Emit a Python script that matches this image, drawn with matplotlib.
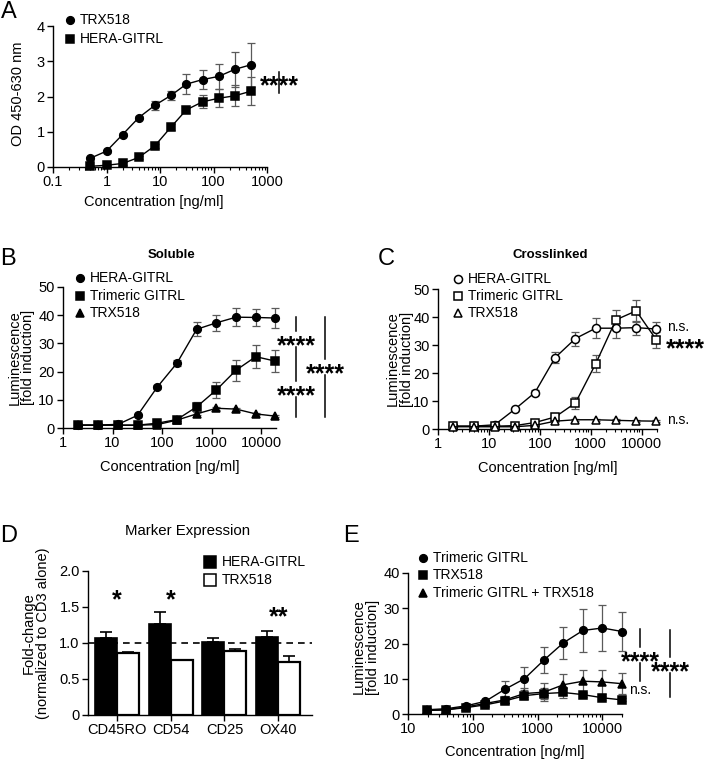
import matplotlib
matplotlib.use("Agg")
import matplotlib.pyplot as plt
import matplotlib.transforms as mtransforms
from matplotlib.lines import Line2D
import numpy as np

plt.rcParams['font.family'] = ['Liberation Sans', 'DejaVu Sans']

W, H = 708, 761

# ---------------- data ----------------
# Panel A
a_conc = [0.5, 1, 2, 4, 8, 16, 31, 62.5, 125, 250, 500]
a_trx = [0.25, 0.45, 0.92, 1.40, 1.75, 2.03, 2.35, 2.48, 2.57, 2.77, 2.90]
a_trx_err = [0.04, 0.04, 0.05, 0.05, 0.12, 0.14, 0.28, 0.28, 0.35, 0.50, 0.63]
a_hera = [0.02, 0.05, 0.10, 0.27, 0.60, 1.13, 1.62, 1.85, 1.95, 2.02, 2.15]
a_hera_err = [0.02, 0.02, 0.03, 0.04, 0.05, 0.08, 0.08, 0.18, 0.25, 0.30, 0.40]
a_xticks = [0.1, 1, 10, 100, 1000]
a_xticklabels = ['0.1', '1', '10', '100', '1000']
a_yticks = [0, 1, 2, 3, 4]

# Panel B (soluble) and C (crosslinked)
bc_conc = [2, 5, 13, 32, 80, 200, 500, 1250, 3125, 7800, 19500]
b_hera = [1.0, 1.0, 1.3, 4.5, 14.5, 23.0, 35.0, 37.3, 39.3, 39.2, 39.0]
b_hera_err = [0.3, 0.3, 0.3, 0.5, 0.8, 1.0, 2.5, 2.8, 3.3, 3.0, 3.5]
b_tri = [1.0, 1.0, 1.0, 1.0, 1.7, 3.0, 7.5, 13.5, 20.5, 25.3, 23.7]
b_tri_err = [0.2, 0.2, 0.2, 0.2, 0.4, 0.6, 1.8, 2.8, 3.7, 4.2, 4.0]
b_trx = [1.0, 1.0, 1.0, 1.0, 1.2, 2.8, 5.0, 7.0, 6.7, 5.0, 4.2]
b_trx_err = [0.2, 0.2, 0.2, 0.2, 0.3, 0.4, 0.5, 0.5, 0.5, 0.4, 0.4]

c_hera = [1.0, 1.0, 1.5, 7.0, 13.0, 25.5, 32.3, 36.0, 36.0, 36.2, 35.7]
c_hera_err = [0.3, 0.3, 0.3, 0.6, 1.0, 2.0, 2.5, 3.5, 3.5, 2.5, 2.5]
c_tri = [1.0, 1.0, 1.0, 1.2, 2.3, 4.3, 9.3, 23.3, 39.0, 42.2, 31.8]
c_tri_err = [0.2, 0.2, 0.2, 0.3, 0.4, 0.6, 2.0, 3.0, 3.5, 4.0, 3.0]
c_trx = [0.8, 0.8, 0.8, 0.8, 1.3, 2.8, 3.3, 3.3, 3.1, 2.9, 2.8]
c_trx_err = [0.2, 0.2, 0.2, 0.2, 0.3, 0.3, 0.4, 0.4, 0.3, 0.3, 0.3]
bc_xticks = [1, 10, 100, 1000, 10000]
bc_xticklabels = ['1', '10', '100', '1000', '10000']
bc_yticks = [0, 10, 20, 30, 40, 50]

# Panel D
d_markers = ['CD45RO', 'CD54', 'CD25', 'OX40']
d_hera = [1.07, 1.26, 1.02, 1.09]
d_hera_err = [0.08, 0.17, 0.05, 0.08]
d_trx = [0.86, 0.76, 0.89, 0.74]
d_trx_err = [0.02, 0.01, 0.02, 0.08]
d_stars = ['*', '*', '', '**']
d_star_y = [1.69, 1.69, 0, 1.46]
d_yticks = [0, 0.5, 1.0, 1.5, 2.0]
d_yticklabels = ['0', '0.5', '1.0', '1.5', '2.0']

# Panel E
e_conc = [19.5, 39, 78, 156, 312, 625, 1250, 2500, 5000, 10000, 20000]
e_tri = [1.2, 1.5, 2.3, 3.6, 7.0, 10.0, 15.3, 20.2, 23.7, 24.4, 23.4]
e_tri_err = [0.3, 0.3, 0.4, 0.5, 2.5, 3.3, 3.8, 4.5, 6.0, 6.5, 5.5]
e_trx = [1.0, 1.2, 1.8, 2.6, 3.7, 5.2, 5.8, 6.1, 5.5, 4.6, 4.0]
e_trx_err = [0.3, 0.3, 0.4, 0.5, 0.7, 1.0, 1.5, 1.5, 0.6, 0.5, 0.4]
e_combo = [1.0, 1.2, 2.0, 3.0, 4.0, 5.8, 6.2, 8.3, 9.3, 9.1, 8.6]
e_combo_err = [0.3, 0.3, 0.4, 0.5, 1.0, 1.5, 2.5, 3.0, 3.3, 3.3, 3.0]
e_xticks = [10, 100, 1000, 10000]
e_xticklabels = ['10', '100', '1000', '10000']
e_yticks = [0, 10, 20, 30, 40]

# ---------------- helpers ----------------
fig = plt.figure(figsize=(W / 100, H / 100), dpi=100)


def add_axes_px(left, top, right, bottom):
    return fig.add_axes([left / W, 1 - bottom / H, (right - left) / W, (bottom - top) / H])


TICK_FS = 10.5
LAB_FS = 10.5
LEG_FS = 10
ECOL = '#5a5a5a'


def style(ax, logx=True):
    for s in ['top', 'right']:
        ax.spines[s].set_visible(False)
    for s in ['left', 'bottom']:
        ax.spines[s].set_linewidth(1.0)
    ax.tick_params(direction='out', length=4, width=1, labelsize=TICK_FS, pad=2)
    ax.tick_params(which='minor', direction='out', length=2.2, width=0.8)
    if logx:
        ax.set_xscale('log')


def series(ax, x, y, err, marker, ms, filled=True):
    ax.errorbar(x, y, yerr=err, fmt='none', ecolor=ECOL, elinewidth=0.9,
                capsize=3, capthick=0.9, zorder=2, clip_on=False)
    ax.plot(x, y, color='black', lw=1.0, marker=marker, ms=ms,
            mfc='black' if filled else 'white', mec='black', mew=1.1,
            zorder=3, clip_on=False)


def fig_text(px, py, s, **kw):
    fig.text(px / W, 1 - py / H, s, **kw)


def legend_px(entries, mx, tx, ys, filled=True):
    for (marker, ms, label), y in zip(entries, ys):
        fig.add_artist(Line2D([mx / W], [1 - y / H], marker=marker, ms=ms,
                              mfc='black' if filled else 'white', mec='black', mew=1.1,
                              ls='none', transform=fig.transFigure))
        fig_text(tx, y, label, fontsize=LEG_FS, ha='left', va='center')


STAR_FS = 18


def stars(ax, xf, y, s, ha='center', trans=None):
    base = trans if trans is not None else mtransforms.blended_transform_factory(ax.transAxes, ax.transData)
    t = mtransforms.offset_copy(base, fig=fig, x=0, y=-14.0, units='dots')
    ax.text(xf, y, s, transform=t, ha=ha, va='baseline', fontsize=STAR_FS,
            fontweight='bold', clip_on=False)


def vline_gaps(ax, xf, y0, y1, gaps, half):
    tr = mtransforms.blended_transform_factory(ax.transAxes, ax.transData)
    pts = [y0]
    for g in sorted(gaps):
        pts += [g - half, g + half]
    pts.append(y1)
    for a, b in zip(pts[0::2], pts[1::2]):
        ax.add_line(Line2D([xf, xf], [a, b], color='black', lw=1.1, transform=tr, clip_on=False))


def text_right(ax, xf, y, s, ha='left'):
    tr = mtransforms.blended_transform_factory(ax.transAxes, ax.transData)
    ax.text(xf, y, s, transform=tr, ha=ha, va='center', fontsize=LEG_FS, clip_on=False)


# ---------------- Panel A ----------------
axA = add_axes_px(53, 26, 267, 167)
style(axA)
series(axA, a_conc, a_trx, a_trx_err, 'o', 5.5)
series(axA, a_conc, a_hera, a_hera_err, 's', 5.2)
axA.set_xlim(0.1, 1000)
axA.set_ylim(0, 4)
axA.set_xticks(a_xticks)
axA.set_xticklabels(a_xticklabels)
axA.set_yticks(a_yticks)
axA.set_xlabel('Concentration [ng/ml]', fontsize=LAB_FS)
axA.set_ylabel('OD 450-630 nm', fontsize=LAB_FS)
axA.xaxis.set_label_coords(0.47, -0.20)
axA.yaxis.set_label_coords(-0.13, 0.52)
vline_gaps(axA, 1.056, 2.11, 2.70, [], 0)
stars(axA, 1.056, 2.49, '****')
legend_px([('o', 5.5, 'TRX518'), ('s', 5.2, 'HERA-GITRL')], 70, 80, [20, 39])
fig_text(1, 18, 'A', fontsize=17, ha='left', va='baseline')

# ---------------- Panel B ----------------
axB = add_axes_px(63, 287, 276, 428)
style(axB)
series(axB, bc_conc, b_hera, b_hera_err, 'o', 5.5)
series(axB, bc_conc, b_tri, b_tri_err, 's', 5.2)
series(axB, bc_conc, b_trx, b_trx_err, '^', 5.8)
axB.set_xlim(1, 20000)
axB.set_ylim(0, 50)
axB.set_xticks(bc_xticks)
axB.set_xticklabels(bc_xticklabels)
axB.set_yticks(bc_yticks)
axB.set_xlabel('Concentration [ng/ml]', fontsize=LAB_FS)
axB.set_ylabel('Luminescence\n[fold induction]', fontsize=LAB_FS, linespacing=1.0)
axB.xaxis.set_label_coords(0.5, -0.23)
axB.yaxis.set_label_coords(-0.13, 0.5)
vline_gaps(axB, 1.094, 3.9, 39.4, [31.5, 13.8], 2.9)
stars(axB, 1.094, 31.5, '****')
stars(axB, 1.094, 13.8, '****')
vline_gaps(axB, 1.23, 3.9, 39.4, [21.6], 2.9)
stars(axB, 1.23, 21.6, '****')
legend_px([('o', 5.5, 'HERA-GITRL'), ('s', 5.2, 'Trimeric GITRL'), ('^', 5.8, 'TRX518')],
          80, 90, [278, 296, 313])
fig_text(172, 258, 'Soluble', fontsize=9.5, fontweight='bold', ha='center', va='baseline')
fig_text(0, 265, 'B', fontsize=17, ha='left', va='baseline')

# ---------------- Panel C ----------------
axC = add_axes_px(438, 289, 657, 429)
style(axC)
series(axC, bc_conc, c_hera, c_hera_err, 'o', 5.8, filled=False)
series(axC, bc_conc, c_tri, c_tri_err, 's', 5.5, filled=False)
series(axC, bc_conc, c_trx, c_trx_err, '^', 6.0, filled=False)
axC.set_xlim(1, 20000)
axC.set_ylim(0, 50)
axC.set_xticks(bc_xticks)
axC.set_xticklabels(bc_xticklabels)
axC.set_yticks(bc_yticks)
axC.set_xlabel('Concentration [ng/ml]', fontsize=LAB_FS)
axC.set_ylabel('Luminescence\n[fold induction]', fontsize=LAB_FS, linespacing=1.0)
axC.xaxis.set_label_coords(0.5, -0.23)
axC.yaxis.set_label_coords(-0.11, 0.5)
text_right(axC, 1.045, 36.4, 'n.s.')
stars(axC, 1.04, 31.0, '****', ha='left')
text_right(axC, 1.045, 3.2, 'n.s.')
legend_px([('o', 5.8, 'HERA-GITRL'), ('s', 5.5, 'Trimeric GITRL'), ('^', 6.0, 'TRX518')],
          458, 468, [279, 296, 313], filled=False)
fig_text(550, 258, 'Crosslinked', fontsize=9.5, fontweight='bold', ha='center', va='baseline')
fig_text(378, 265, 'C', fontsize=17, ha='left', va='baseline')

# ---------------- Panel D ----------------
axD = add_axes_px(88, 571, 312, 715)
style(axD, logx=False)
xpos = np.arange(len(d_markers))
bw = 0.41
axD.bar(xpos - bw / 2, d_hera, width=bw, color='black', edgecolor='black', lw=1.2,
        yerr=[np.zeros(4), d_hera_err], error_kw=dict(ecolor='black', elinewidth=1.2, capsize=4, capthick=1.2),
        zorder=2)
axD.bar(xpos + bw / 2, d_trx, width=bw, color='white', edgecolor='black', lw=1.6,
        yerr=[np.zeros(4), d_trx_err], error_kw=dict(ecolor='black', elinewidth=1.2, capsize=4, capthick=1.2),
        zorder=2)
axD.axhline(1.0, color='black', lw=1.2, ls=(0, (4, 3)), zorder=3)
axD.set_xlim(-0.54, 3.63)
axD.set_ylim(0, 2.0)
axD.set_xticks(xpos)
axD.set_xticklabels(d_markers, fontsize=10.5)
axD.set_yticks(d_yticks)
axD.set_yticklabels(d_yticklabels)
axD.set_ylabel('Fold-change\n(normalized to CD3 alone)', fontsize=LAB_FS, linespacing=1.05)
axD.yaxis.set_label_coords(-0.17, 0.57)
for i, (s, yv) in enumerate(zip(d_stars, d_star_y)):
    if s:
        stars(axD, xpos[i], yv, s, trans=axD.transData)
legend_px([('s', 8, 'HERA-GITRL')], 210, 222, [562])
legend_px([('s', 8, 'TRX518')], 210, 222, [580], filled=False)
fig_text(188, 535, 'Marker Expression', fontsize=10.8, ha='center', va='baseline')
fig_text(0, 542, 'D', fontsize=17, ha='left', va='baseline')

# ---------------- Panel E ----------------
axE = add_axes_px(408, 573, 622, 714)
style(axE)
series(axE, e_conc, e_tri, e_tri_err, 'o', 5.5)
series(axE, e_conc, e_trx, e_trx_err, 's', 5.2)
series(axE, e_conc, e_combo, e_combo_err, '^', 5.8)
axE.set_xlim(10, 20000)
axE.set_ylim(0, 40)
axE.set_xticks(e_xticks)
axE.set_xticklabels(e_xticklabels)
axE.set_yticks(e_yticks)
axE.set_xlabel('Concentration [ng/ml]', fontsize=LAB_FS)
axE.set_ylabel('Luminescence\n[fold induction]', fontsize=LAB_FS, linespacing=1.0)
axE.xaxis.set_label_coords(0.5, -0.22)
axE.yaxis.set_label_coords(-0.13, 0.475)
vline_gaps(axE, 1.084, 9.4, 24.0, [16.7], 2.3)
stars(axE, 1.084, 16.7, '****')
text_right(axE, 1.084, 6.8, 'n.s.', ha='center')
vline_gaps(axE, 1.224, 4.8, 23.8, [13.9], 2.3)
stars(axE, 1.224, 13.9, '****')
legend_px([('o', 5.5, 'Trimeric GITRL'), ('s', 5.2, 'TRX518'), ('^', 5.8, 'Trimeric GITRL + TRX518')],
          423, 433, [558, 575, 593])
fig_text(343, 542, 'E', fontsize=17, ha='left', va='baseline')

fig.savefig('out.png', dpi=100)
